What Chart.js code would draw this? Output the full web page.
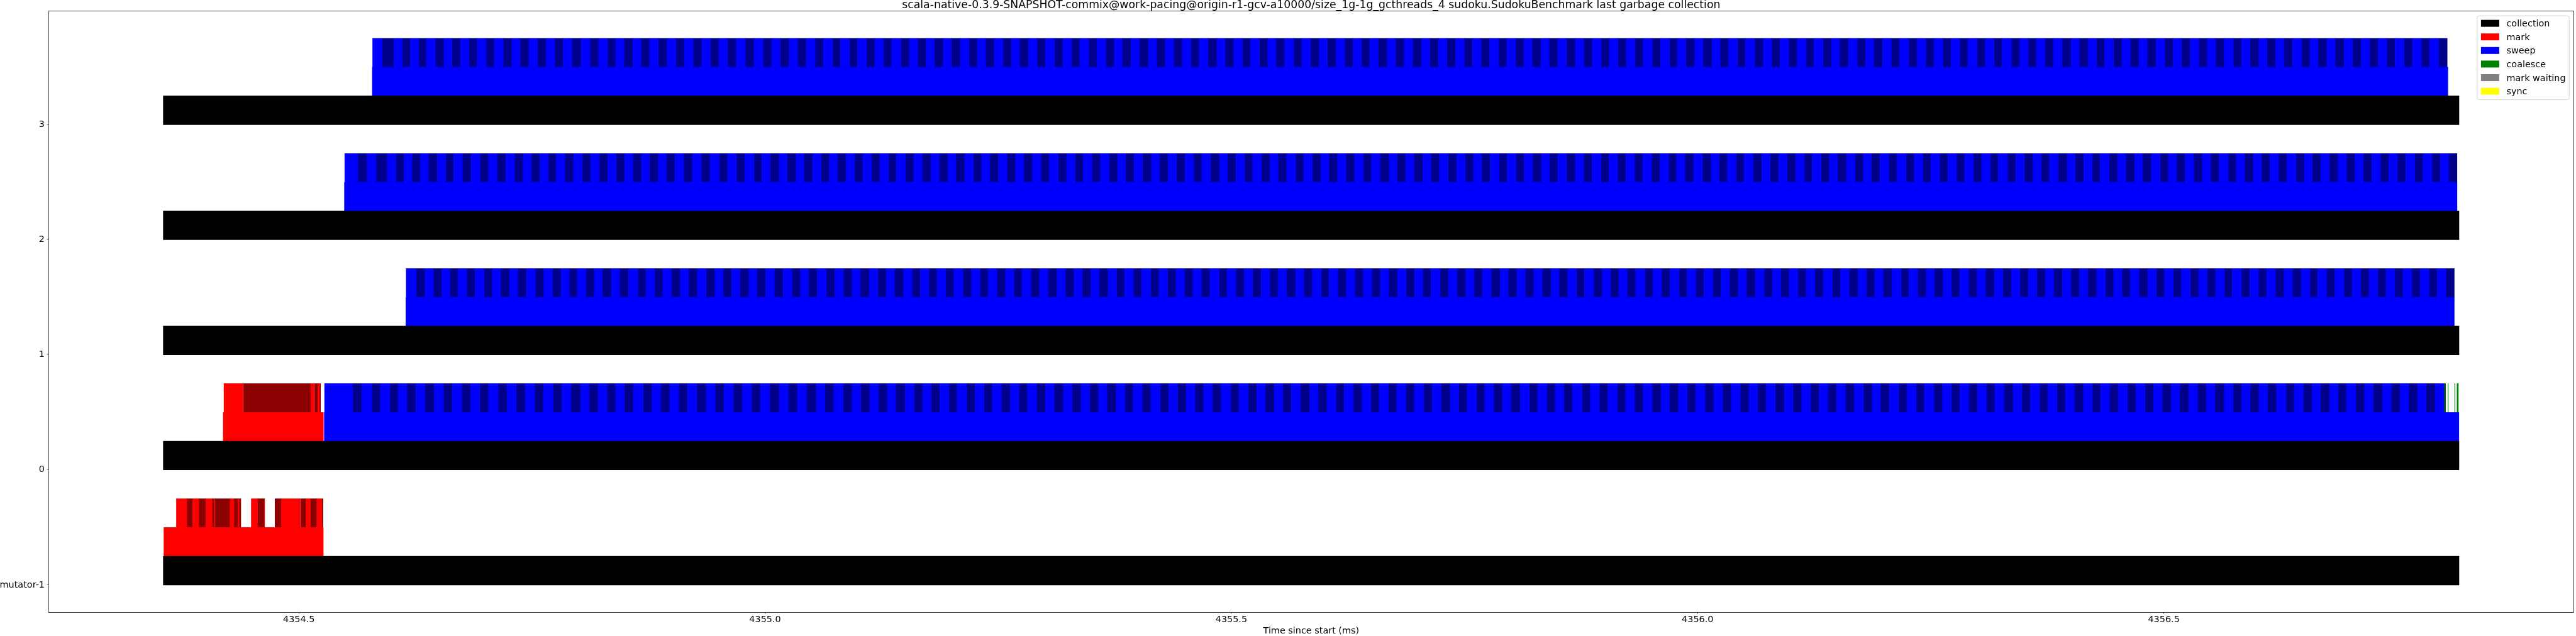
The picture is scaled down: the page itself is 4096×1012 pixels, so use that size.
<!DOCTYPE html>
<html>
<head>
<meta charset="utf-8">
<title>last garbage collection</title>
<script src="https://cdn.jsdelivr.net/npm/chart.js@4.4.0/dist/chart.umd.min.js"></script>
<style>
  html, body { margin: 0; padding: 0; background: #fff; }
  #wrap { width: 4096px; height: 1012px; }
</style>
</head>
<body>
<div id="wrap"><canvas id="gc" width="4096" height="1012"></canvas></div>
<script>
// rows / ticks
var rowIds = [-1, 0, 1, 2, 3];
var rowLabels = ["mutator-1", "0", "1", "2", "3"];
var timeTicks = [4354.5, 4355.0, 4355.5, 4356.0, 4356.5];
var timeRange = [4354.2316, 4356.9396];
var titleText = "scala-native-0.3.9-SNAPSHOT-commix@work-pacing@origin-r1-gcv-a10000/size_1g-1g_gcthreads_4 sudoku.SudokuBenchmark last garbage collection";

// legend entries
var legendLabels = ["collection", "mark", "sweep", "coalesce", "mark waiting", "sync"];
var legendColors = ["#000000", "#ff0000", "#0000ff", "#008000", "#808080", "#ffff00"];

// whole collection, same on every row (ms)
var collection = [4354.35467, 4356.81651];

// phases [row, start, end] (ms)
var markPhase = [[-1, 4354.35530, 4354.52624], [0, 4354.41892, 4354.52638]];
var sweepPhase = [[0, 4354.52732, 4356.81640], [1, 4354.61480, 4356.81144],
                  [2, 4354.54891, 4356.81441], [3, 4354.57880, 4356.80463]];

// mark batches [start, end] (ms)
var mutatorMark = [
  [4354.36872, 4354.37979], [4354.37979, 4354.38618], [4354.38618, 4354.39272], [4354.39272, 4354.40037],
  [4354.40037, 4354.40707], [4354.40707, 4354.40955], [4354.40987, 4354.41022], [4354.41022, 4354.42625],
  [4354.42625, 4354.43048], [4354.43048, 4354.43467], [4354.43467, 4354.43607], [4354.43607, 4354.43782],
  [4354.44900, 4354.45574], [4354.45574, 4354.46290], [4354.46290, 4354.46339], [4354.47446, 4354.48114],
  [4354.48114, 4354.50140], [4354.50175, 4354.50769], [4354.50769, 4354.51251], [4354.51251, 4354.51921],
  [4354.51921, 4354.52452], [4354.52452, 4354.52592]
];
var row0Mark = [
  [4354.41972, 4354.44012], [4354.44061, 4354.51296], [4354.51296, 4354.51624],
  [4354.51670, 4354.52030], [4354.52030, 4354.52232], [4354.52232, 4354.52327]
];
// coalesce batches at the end of row 0 (ms)
var row0Coalesce = [
  [4356.80044, 4356.80218], [4356.80463, 4356.80498], [4356.81197, 4356.81232], [4356.81441, 4356.81581]
];

// sweep batches: first start (ms), then durations (us)
var row0SweepStart = 4354.52763;
var row0Sweep = [
  30.1, 9.9, 10.7, 9.2, 9.9, 9.2, 9.2, 9.9, 9.6, 9.9,
  9.9, 9.6, 9.9, 9.6, 9.6, 9.6, 10.3, 9.6, 9.6, 9.9,
  9.9, 9.6, 10.3, 9.6, 9.6, 10.3, 9.2, 9.6, 9.6, 9.2,
  9.2, 9.9, 10.3, 9.6, 9.2, 9.9, 9.6, 9.6, 9.9, 9.9,
  9.6, 9.6, 9.9, 9.6, 9.9, 9.6, 9.9, 10.3, 9.6, 9.9,
  9.6, 10.7, 9.2, 9.6, 9.9,
  9.6, 9.1, 9.9, 9.3, 9.5, 9.0, 10.2, 9.4, 9.2, 9.1,
  9.3, 9.7, 8.9, 10.0, 9.4, 9.4, 9.1, 9.6, 9.6, 9.3,
  9.0, 9.9, 9.5, 9.2, 10.0, 9.3, 9.6, 9.1, 9.7, 9.0,
  9.9, 9.4, 8.8, 9.7, 9.3, 9.9, 9.2, 9.5, 9.3, 9.3,
  9.5, 9.2, 9.6, 10.1, 8.9, 9.7, 9.4, 9.0, 9.8, 9.1,
  9.2, 9.6, 10.0, 9.1, 9.4, 9.7, 8.9, 9.7, 9.4, 9.3,
  9.0, 9.7, 9.1, 9.6, 9.3, 10.0, 9.2, 9.5, 9.9, 9.0,
  9.1, 9.8, 9.0, 9.4, 9.7, 8.9, 10.1, 9.6, 9.2, 9.5,
  9.1, 9.2, 9.4, 10.2, 9.0, 9.5, 9.3, 9.9, 9.1, 9.6,
  9.3, 9.4, 9.7, 8.9, 9.7, 9.4, 9.1, 10.0, 9.6, 9.2,
  9.3, 9.6, 9.6, 9.1, 9.4, 9.4, 10.0, 8.9, 9.7, 9.3,
  9.3, 9.3, 9.5, 9.2, 9.9, 9.3, 9.7, 8.8, 9.4, 9.9,
  9.3, 9.7, 8.9, 10.0, 9.4, 9.4, 9.1, 9.6, 9.6, 9.3,
  9.2, 9.6, 10.0, 9.1, 9.4, 9.7, 8.9, 9.7, 9.4, 9.3,
  9.9, 9.4, 8.8, 9.7, 9.3, 9.9, 9.2, 9.5, 9.3, 9.3,
  9.6, 9.1, 9.9, 9.3, 9.5, 9.0, 10.2, 9.4, 9.2, 9.1,
  9.5, 9.2, 9.6, 10.1, 8.9, 9.7, 9.4, 9.0, 9.8, 9.1,
  9.0, 9.9, 9.5, 9.2, 10.0, 9.3, 9.6, 9.1, 9.7, 9.0,
  9.8, 9.5
];

var row1SweepStart = 4354.61514;
var row1Sweep = [
  10.7, 9.6, 8.8, 9.2, 8.5, 8.8, 9.2, 9.2, 9.6, 8.8,
  8.8, 9.6, 8.8, 9.6, 9.2, 9.2, 9.2, 9.2, 8.8, 8.8,
  9.2, 8.8, 8.8, 9.6, 8.8, 9.6, 9.9, 8.8, 9.2, 8.8,
  9.2, 9.6, 8.8, 9.6, 9.2, 9.6, 8.8, 9.2, 8.8, 9.6,
  8.5, 9.6, 9.2, 9.6, 9.2, 9.2, 8.5, 9.6, 9.6, 9.2,
  9.2,
  9.3, 8.8, 9.6, 9.0, 9.2, 8.7, 9.9, 9.1, 8.9, 8.9,
  9.0, 9.4, 8.6, 9.7, 9.2, 9.1, 8.8, 9.4, 9.2, 9.0,
  8.7, 9.6, 9.2, 8.9, 9.7, 9.0, 9.3, 8.8, 9.4, 8.8,
  9.6, 9.1, 8.5, 9.4, 9.0, 9.6, 8.9, 9.2, 9.0, 9.1,
  9.2, 8.9, 9.3, 9.8, 8.6, 9.4, 9.1, 8.7, 9.5, 8.9,
  8.9, 9.3, 9.7, 8.8, 9.1, 9.4, 8.6, 9.4, 9.1, 9.1,
  9.1, 9.0, 9.2, 8.9, 9.6, 9.0, 9.4, 8.5, 9.1, 9.6,
  9.0, 9.2, 9.4, 8.8, 9.1, 9.2, 9.7, 8.6, 9.4, 9.0,
  9.1, 9.1, 9.4, 8.6, 9.4, 9.1, 8.8, 9.7, 9.3, 8.9,
  8.9, 8.9, 9.1, 9.9, 8.7, 9.2, 9.0, 9.6, 8.8, 9.3,
  8.9, 9.5, 8.7, 9.1, 9.4, 8.6, 9.8, 9.3, 8.9, 9.2,
  8.8, 9.4, 8.8, 9.3, 9.0, 9.7, 8.9, 9.2, 9.6, 8.7,
  9.2, 8.9, 9.3, 9.8, 8.6, 9.4, 9.1, 8.7, 9.5, 8.9,
  8.7, 9.6, 9.2, 8.9, 9.7, 9.0, 9.3, 8.8, 9.4, 8.8,
  9.3, 8.8, 9.6, 9.0, 9.2, 8.7, 9.9, 9.1, 8.9, 8.9,
  8.9, 9.3, 9.7, 8.8, 9.1, 9.4, 8.6, 9.4, 9.1, 9.1,
  9.0, 9.4, 8.6, 9.7, 9.2, 9.1, 8.8, 9.4, 9.2, 9.0,
  9.6, 9.1, 8.5, 9.4, 9.0, 9.6, 8.9, 9.2, 9.0, 9.1,
  9.1, 9.4, 8.8, 9.3, 9.0, 9.5, 8.9, 9.2, 9.0
];

var row2SweepStart = 4354.54926;
var row2Sweep = [
  14.0, 9.9, 9.6, 12.1, 9.2, 8.8, 8.5, 8.8, 8.8, 9.6,
  8.8, 8.8, 9.2, 9.6, 9.2, 9.2, 9.2, 9.6, 9.2, 9.2,
  8.8, 9.2, 8.8, 8.8, 9.2, 9.2, 9.2, 9.2, 9.2, 9.2,
  8.8, 9.2, 8.8, 9.2, 8.5, 9.6, 8.8, 9.2, 9.2, 9.6,
  9.2, 9.6, 9.6, 9.2, 9.2, 9.2, 9.6, 8.8, 8.8, 9.6,
  8.5, 9.6, 8.5, 9.2, 9.2, 8.8, 8.8, 9.2,
  9.1, 8.7, 9.5, 8.9, 9.2, 8.6, 9.8, 9.0, 8.8, 9.3,
  8.9, 9.4, 8.5, 9.6, 9.1, 9.0, 8.7, 9.3, 9.2, 9.2,
  8.6, 9.5, 9.1, 8.8, 9.7, 8.9, 9.2, 8.7, 9.4, 9.0,
  9.5, 9.0, 8.4, 9.3, 8.9, 9.6, 8.8, 9.1, 9.0, 9.3,
  9.1, 8.8, 9.2, 9.8, 8.5, 9.3, 9.0, 8.6, 9.5, 9.1,
  8.8, 9.2, 9.6, 8.7, 9.0, 9.4, 8.5, 9.3, 9.1, 9.3,
  9.3, 8.8, 9.0, 9.8, 8.6, 9.2, 8.9, 9.5, 8.7, 9.1,
  9.2, 9.2, 9.3, 8.7, 9.0, 9.1, 9.6, 8.5, 9.4, 8.9,
  9.0, 9.4, 8.7, 9.2, 8.9, 9.7, 8.8, 9.1, 9.5, 8.6,
  9.3, 9.0, 9.1, 8.8, 9.6, 8.9, 9.3, 8.4, 9.0, 9.5,
  9.1, 9.5, 8.6, 9.0, 9.3, 8.5, 9.8, 9.2, 8.8, 9.1,
  9.3, 9.1, 9.3, 8.5, 9.4, 9.0, 8.7, 9.6, 9.2, 8.8,
  8.6, 9.5, 9.1, 8.8, 9.7, 8.9, 9.2, 8.7, 9.4, 9.0,
  9.1, 8.7, 9.5, 8.9, 9.2, 8.6, 9.8, 9.0, 8.8, 9.3,
  9.1, 8.8, 9.2, 9.8, 8.5, 9.3, 9.0, 8.6, 9.5, 9.1,
  8.9, 9.4, 8.5, 9.6, 9.1, 9.0, 8.7, 9.3, 9.2, 9.2,
  8.8, 9.2, 9.6, 8.7, 9.0, 9.4, 8.5, 9.3, 9.1, 9.3,
  9.5, 9.0, 8.4, 9.3, 8.9, 9.6, 8.8, 9.1, 9.0, 9.3,
  9.2, 8.9, 9.4, 9.0, 9.5, 8.8, 9.6, 9.1, 8.7, 9.1
];

var row3SweepStart = 4354.57916;
var row3Sweep = [
  10.3, 12.5, 9.2, 8.4, 8.9, 8.4, 9.6, 9.2, 8.4, 9.2,
  9.2, 8.8, 9.6, 8.8, 9.6, 9.1, 8.9, 9.5, 9.2, 9.2,
  9.2, 9.2, 9.2, 9.9, 9.6, 9.2, 9.5, 8.8, 8.9, 9.5,
  8.8, 9.2, 9.2, 9.6, 9.2, 9.2, 9.5, 9.2, 9.2, 9.2,
  9.2, 9.5, 9.6, 9.5, 9.6, 9.2, 9.2, 9.5, 9.2, 9.2,
  9.6, 8.8, 9.6, 8.8,
  9.4, 8.8, 9.6, 9.0, 9.3, 8.7, 9.9, 9.1, 8.9, 8.9,
  9.0, 9.5, 8.6, 9.7, 9.2, 9.1, 8.8, 9.4, 9.3, 9.0,
  8.7, 9.6, 9.2, 8.9, 9.8, 9.0, 9.3, 8.8, 9.5, 8.8,
  9.6, 9.1, 8.5, 9.4, 9.0, 9.7, 8.9, 9.2, 9.0, 9.2,
  9.2, 8.9, 9.3, 9.9, 8.6, 9.4, 9.1, 8.7, 9.6, 8.9,
  8.9, 9.3, 9.7, 8.8, 9.1, 9.5, 8.6, 9.4, 9.2, 9.1,
  8.9, 8.9, 9.1, 9.9, 8.7, 9.3, 9.0, 9.6, 8.8, 9.4,
  9.0, 9.3, 9.4, 8.8, 9.1, 9.2, 9.7, 8.6, 9.5, 9.0,
  8.8, 9.5, 8.8, 9.3, 9.0, 9.8, 8.9, 9.2, 9.6, 8.7,
  9.2, 9.0, 9.2, 8.9, 9.7, 9.0, 9.4, 8.5, 9.1, 9.6,
  8.9, 9.6, 8.7, 9.1, 9.4, 8.6, 9.9, 9.3, 8.9, 9.2,
  9.1, 9.2, 9.4, 8.6, 9.5, 9.1, 8.8, 9.7, 9.3, 8.9,
  8.7, 9.6, 9.2, 8.9, 9.8, 9.0, 9.3, 8.8, 9.5, 8.8,
  9.4, 8.8, 9.6, 9.0, 9.3, 8.7, 9.9, 9.1, 8.9, 8.9,
  9.2, 8.9, 9.3, 9.9, 8.6, 9.4, 9.1, 8.7, 9.6, 8.9,
  9.0, 9.5, 8.6, 9.7, 9.2, 9.1, 8.8, 9.4, 9.3, 9.0,
  8.9, 9.3, 9.7, 8.8, 9.1, 9.5, 8.6, 9.4, 9.2, 9.1,
  9.6, 9.1, 8.5, 9.4, 9.0, 9.7, 8.9, 9.2, 9.0, 9.2,
  9.3, 9.0, 9.4, 9.1, 9.5, 8.9, 9.6, 9.3
];

// lane offsets inside a row (y units)
var LANE_COLLECTION = 0.125, LANE_PHASE = 0.375, LANE_BATCH = 0.625;
var S = 0.518; // size factor against the reference
var FONT = "DejaVu Sans";
var FS = 14.4;
var TITLE_FS = 17.3;

Chart.defaults.font.family = FONT;
Chart.defaults.font.size = FS;
Chart.defaults.color = "#000";

function durationsToPairs(start, durs) {
  var t = start, pairs = [];
  durs.forEach(function (d) {
    pairs.push([t, t + d / 1000]);
    t += d / 1000;
  });
  return pairs;
}

// alternate light / dark colour for consecutive batches
function splitBatches(row, pairs, light, dark, firstDark) {
  pairs.forEach(function (p, i) {
    var isDark = (i % 2 === 1) !== !!firstDark;
    (isDark ? dark : light).push({ x: [p[0], p[1]], y: row + LANE_BATCH });
  });
}

var collectionBars = rowIds.map(function (r) { return { x: [collection[0], collection[1]], y: r + LANE_COLLECTION }; });
var markBars = markPhase.map(function (p) { return { x: [p[1], p[2]], y: p[0] + LANE_PHASE }; });
var sweepBars = sweepPhase.map(function (p) { return { x: [p[1], p[2]], y: p[0] + LANE_PHASE }; });

var markLight = [], markDark = [], sweepLight = [], sweepDark = [], coalLight = [], coalDark = [];
splitBatches(-1, mutatorMark, markLight, markDark);
splitBatches(0, row0Mark, markLight, markDark);
splitBatches(0, durationsToPairs(row0SweepStart, row0Sweep), sweepLight, sweepDark);
splitBatches(1, durationsToPairs(row1SweepStart, row1Sweep), sweepLight, sweepDark);
splitBatches(2, durationsToPairs(row2SweepStart, row2Sweep), sweepLight, sweepDark);
splitBatches(3, durationsToPairs(row3SweepStart, row3Sweep), sweepLight, sweepDark);
splitBatches(0, row0Coalesce, coalLight, coalDark, true);

var decorations = {
  id: "decorations",
  afterDraw: function (chart) {
    var ctx = chart.ctx, a = chart.chartArea;
    ctx.save();
    // axes frame
    ctx.strokeStyle = "#000";
    ctx.lineWidth = 0.8;
    ctx.strokeRect(a.left, a.top, a.right - a.left, a.bottom - a.top);

    // title over the axes
    ctx.fillStyle = "#000";
    ctx.font = TITLE_FS + "px '" + FONT + "'";
    ctx.textAlign = "center";
    ctx.textBaseline = "alphabetic";
    ctx.fillText(titleText, (a.left + a.right) / 2, a.top - 8.3 * S);

    // legend box, upper right inside the axes
    ctx.font = FS + "px '" + FONT + "'";
    var bw = 146.4, bh = 133.5;
    var bx = a.right - 7.25 - bw, by = a.top + 7.5;
    ctx.beginPath();
    ctx.roundRect(bx, by, bw, bh, 2.9);
    ctx.fillStyle = "rgba(255,255,255,0.8)";
    ctx.fill();
    ctx.strokeStyle = "#cccccc";
    ctx.lineWidth = 0.8;
    ctx.stroke();
    ctx.textAlign = "left";
    legendLabels.forEach(function (lab, i) {
      var cy = by + 12.0 + i * 21.6;
      ctx.fillStyle = legendColors[i];
      ctx.fillRect(bx + 6.1, cy - 5.5, 29, 11);
      ctx.fillStyle = "#000";
      ctx.fillText(lab, bx + 46.6, cy + 0.36 * FS);
    });
    ctx.restore();
  }
};

function bar(label, data, color) {
  return { label: label, data: data, backgroundColor: color, borderWidth: 0 };
}

var axisGrid = { drawOnChartArea: false, drawTicks: true, tickLength: 2.5, tickColor: "#000", tickWidth: 0.6, offset: false };

new Chart(document.getElementById("gc"), {
  type: "bar",
  data: {
    datasets: [
      bar("collection", collectionBars, "#000000"),
      bar("mark", markBars, "#ff0000"),
      bar("sweep", sweepBars, "#0000ff"),
      bar("mark batch", markLight, "#ff0000"),
      bar("mark batch dark", markDark, "#8b0000"),
      bar("sweep batch", sweepLight, "#0000ff"),
      bar("sweep batch dark", sweepDark, "#00008b"),
      bar("coalesce batch", coalLight, "#008000"),
      bar("coalesce batch dark", coalDark, "#006400")
    ]
  },
  options: {
    responsive: false,
    animation: false,
    devicePixelRatio: 1,
    events: [],
    indexAxis: "y",
    datasets: { bar: { grouped: false, categoryPercentage: 1, barPercentage: 1 } },
    layout: { padding: { top: 34 * S, right: 4096 - 7900.5 * S, bottom: 0, left: 0 } },
    plugins: { legend: { display: false }, tooltip: { enabled: false }, title: { display: false } },
    scales: {
      x: {
        type: "linear",
        min: timeRange[0],
        max: timeRange[1],
        bounds: "data",
        beginAtZero: false,
        afterBuildTicks: function (s) { s.ticks = timeTicks.map(function (v) { return { value: v }; }); },
        afterFit: function (s) { s.height = 1012 - 1881 * S; },
        ticks: {
          autoSkip: false, maxRotation: 0, padding: 0.6, color: "#000",
          callback: function (v) { return Number(v).toFixed(1); }
        },
        grid: axisGrid,
        border: { display: false },
        title: { display: true, text: "Time since start (ms)", color: "#000", padding: 0, font: { size: FS, lineHeight: 1.1 } }
      },
      y: {
        type: "linear",
        min: -1.2375,
        max: 3.9875,
        bounds: "data",
        offset: false,
        afterBuildTicks: function (s) { s.ticks = rowIds.map(function (v) { return { value: v }; }); },
        afterFit: function (s) { s.width = 149 * S; },
        ticks: {
          autoSkip: false, padding: 3.7, color: "#000",
          callback: function (v) { return rowLabels[rowIds.indexOf(v)]; }
        },
        grid: axisGrid,
        border: { display: false }
      }
    }
  },
  plugins: [decorations]
});
</script>
</body>
</html>
